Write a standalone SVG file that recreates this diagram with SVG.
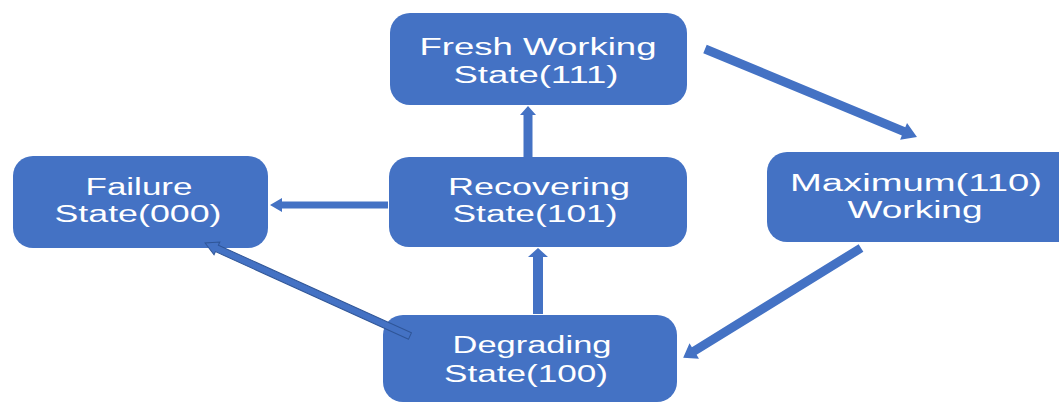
<svg xmlns="http://www.w3.org/2000/svg" width="1059" height="403" viewBox="0 0 1059 403">
<style>
.node{fill:#4472C4;}
.lbl{fill:#ffffff;font-family:"Liberation Sans",Arial,sans-serif;font-size:23px;text-anchor:middle;}
.arr{fill:#4472C4;}
.arr2{fill:#4472C4;stroke:#2F5597;stroke-width:1;}
</style>
<rect width="1059" height="403" fill="#ffffff"/>
<g id="fresh">
<rect class="node" x="390" y="13" width="297" height="92" rx="20"/>
<text class="lbl" x="538" y="55" textLength="237" lengthAdjust="spacingAndGlyphs">Fresh Working</text>
<text class="lbl" x="536" y="83" textLength="165" lengthAdjust="spacingAndGlyphs">State(111)</text>
</g>
<g id="maximum">
<rect class="node" x="767" y="152" width="310" height="90" rx="20"/>
<text class="lbl" x="916" y="191" textLength="252" lengthAdjust="spacingAndGlyphs">Maximum(110)</text>
<text class="lbl" x="915" y="218" textLength="135" lengthAdjust="spacingAndGlyphs">Working</text>
</g>
<g id="failure">
<rect class="node" x="13" y="156" width="255" height="92" rx="20"/>
<text class="lbl" x="139" y="195" textLength="107" lengthAdjust="spacingAndGlyphs">Failure</text>
<text class="lbl" x="138" y="222" textLength="167" lengthAdjust="spacingAndGlyphs">State(000)</text>
</g>
<g id="recovering">
<rect class="node" x="389" y="157" width="298" height="90" rx="20"/>
<text class="lbl" x="539" y="195" textLength="182" lengthAdjust="spacingAndGlyphs">Recovering</text>
<text class="lbl" x="535" y="222" textLength="165" lengthAdjust="spacingAndGlyphs">State(101)</text>
</g>
<g id="degrading">
<rect class="node" x="383" y="315" width="294" height="87" rx="20"/>
<text class="lbl" x="532" y="353" textLength="159" lengthAdjust="spacingAndGlyphs">Degrading</text>
<text class="lbl" x="526" y="382" textLength="164" lengthAdjust="spacingAndGlyphs">State(100)</text>
</g>
<g id="connectors">
<g transform="translate(705,49) rotate(22.54)"><polygon class="arr" points="0,-4.5 215,-4.5 215,-9 229.5,0 215,9 215,4.5 0,4.5"/></g>
<g transform="translate(528,157) rotate(-90)"><polygon class="arr" points="0,-4.5 42,-4.5 42,-8 51,0 42,8 42,4.5 0,4.5"/></g>
<g transform="translate(388,205) rotate(180)"><polygon class="arr" points="0,-3.5 106,-3.5 106,-7 118,0 106,7 106,3.5 0,3.5"/></g>
<g transform="translate(538,314) rotate(-90)"><polygon class="arr" points="0,-5 57,-5 57,-10 66,0 57,10 57,5 0,5"/></g>
<g transform="translate(410,336) rotate(204.4)"><polygon class="arr2" points="0,-3.5 212,-3.5 212,-7 225,0 212,7 212,3.5 0,3.5"/></g>
<g transform="translate(861,248) rotate(148.3)"><polygon class="arr" points="0,-4.5 196,-4.5 196,-9 209,0 196,9 196,4.5 0,4.5"/></g>
</g>
</svg>
